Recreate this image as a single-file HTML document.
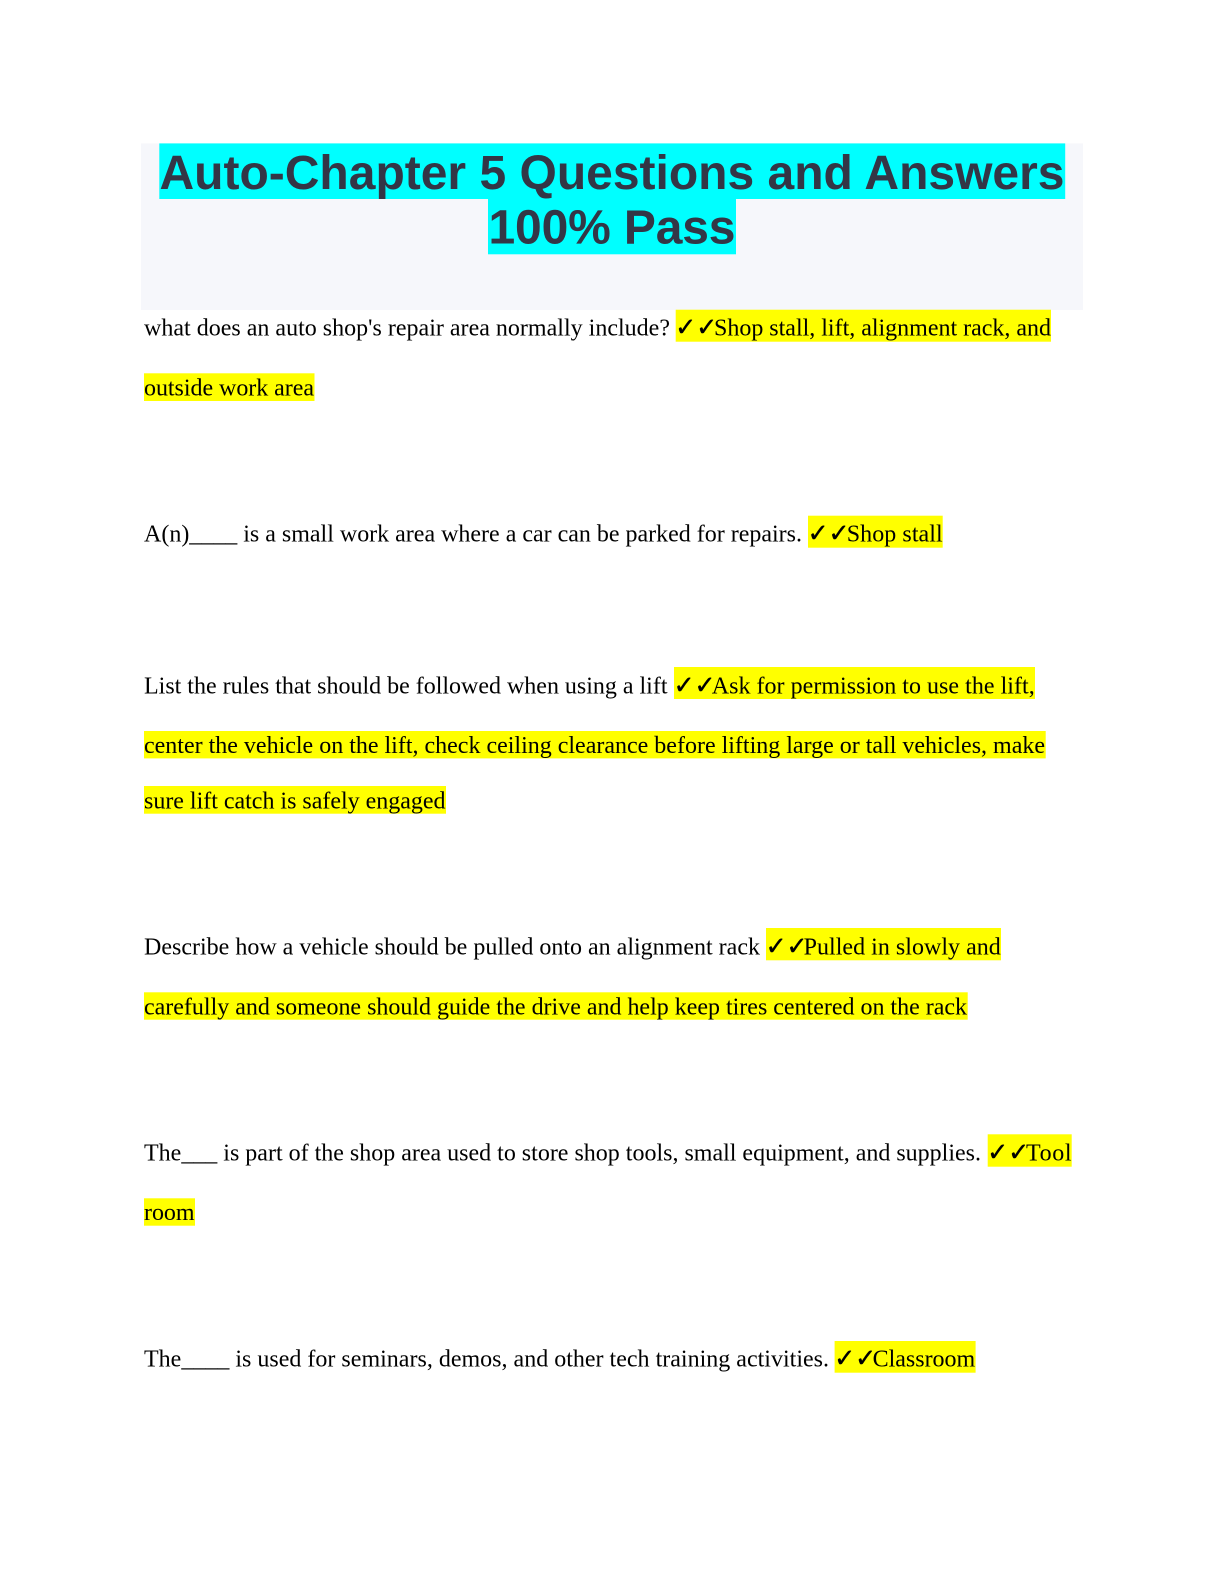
<!DOCTYPE html>
<html><head><meta charset="utf-8"><title>Auto-Chapter 5 Questions and Answers 100% Pass</title>
<style>
html,body{margin:0;padding:0;background:#fff;width:1224px;height:1584px;overflow:hidden}
svg{display:block}
.t{font-family:"Liberation Serif",serif;font-size:24px;fill:#000}
.c{font-family:"DejaVu Sans",sans-serif;font-size:25px;fill:#000;stroke:#000;stroke-width:.45px}
.h{font-family:"Liberation Sans",sans-serif;font-weight:bold;font-size:48px;fill:#333646}
</style></head><body>
<svg width="1224" height="1584" viewBox="0 0 1224 1584" xmlns="http://www.w3.org/2000/svg">
<rect width="1224" height="1584" fill="#fff"/>
<rect x="141" y="143.4" width="942" height="166.6" fill="#f6f7fb"/>
<rect x="159.3" y="143.4" width="905.9" height="55.6" fill="#0ff"/>
<rect x="488" y="199" width="248" height="55.3" fill="#0ff"/>
<text class="h" x="159.5" y="188.8" textLength="905" lengthAdjust="spacing">Auto-Chapter 5 Questions and Answers</text>
<text class="h" x="488.5" y="243.4" textLength="247" lengthAdjust="spacing">100% Pass</text>

<g fill="#ff0">
<rect x="675.7" y="309.7" width="375.3" height="32"/>
<rect x="144" y="373.3" width="170.5" height="27.7"/>
<rect x="808" y="515.7" width="134.7" height="32"/>
<rect x="674" y="667" width="361" height="32"/>
<rect x="144" y="731" width="901.7" height="27.4"/>
<rect x="144" y="786" width="302" height="27.7"/>
<rect x="766" y="928" width="235" height="32.3"/>
<rect x="144" y="992.3" width="823.7" height="27.4"/>
<rect x="987.7" y="1134.3" width="84" height="32.4"/>
<rect x="144" y="1198.3" width="51" height="27.4"/>
<rect x="834.6" y="1341" width="141" height="31.7"/>
</g>

<text class="t" x="144" y="335.3" textLength="526" lengthAdjust="spacing">what does an auto shop's repair area normally include?</text>
<text class="c" x="675.3" y="335.3">✓✓</text>
<text class="t" x="714" y="335.3" textLength="337" lengthAdjust="spacing">Shop stall, lift, alignment rack, and</text>
<text class="t" x="144" y="395.4" textLength="170" lengthAdjust="spacing">outside work area</text>

<text class="t" x="144" y="541.3" textLength="658" lengthAdjust="spacing">A(n)____ is a small work area where a car can be parked for repairs.</text>
<text class="c" x="807.6" y="541.3">✓✓</text>
<text class="t" x="846.7" y="541.3" textLength="96" lengthAdjust="spacing">Shop stall</text>

<text class="t" x="144" y="693.3" textLength="523.5" lengthAdjust="spacing">List the rules that should be followed when using a lift</text>
<text class="c" x="673.6" y="693.3">✓✓</text>
<text class="t" x="711.7" y="693.3" textLength="323" lengthAdjust="spacing">Ask for permission to use the lift,</text>
<text class="t" x="144" y="753.2" textLength="901" lengthAdjust="spacing">center the vehicle on the lift, check ceiling clearance before lifting large or tall vehicles, make</text>
<text class="t" x="144" y="808.7" textLength="301.5" lengthAdjust="spacing">sure lift catch is safely engaged</text>

<text class="t" x="144" y="954.4" textLength="616" lengthAdjust="spacing">Describe how a vehicle should be pulled onto an alignment rack</text>
<text class="c" x="765.6" y="954.4">✓✓</text>
<text class="t" x="803.6" y="954.4" textLength="197.2" lengthAdjust="spacing">Pulled in slowly and</text>
<text class="t" x="144" y="1014.3" textLength="823" lengthAdjust="spacing">carefully and someone should guide the drive and help keep tires centered on the rack</text>

<text class="t" x="144" y="1160.5" textLength="837" lengthAdjust="spacing">The___ is part of the shop area used to store shop tools, small equipment, and supplies.</text>
<text class="c" x="987.3" y="1160.5">✓✓</text>
<text class="t" x="1026" y="1160.5" textLength="45.5" lengthAdjust="spacing">Tool</text>
<text class="t" x="144" y="1220" textLength="50.5" lengthAdjust="spacing">room</text>

<text class="t" x="144" y="1366.3" textLength="685" lengthAdjust="spacing">The____ is used for seminars, demos, and other tech training activities.</text>
<text class="c" x="834.2" y="1366.3">✓✓</text>
<text class="t" x="872.6" y="1366.3" textLength="102.6" lengthAdjust="spacing">Classroom</text>
</svg>
</body></html>
